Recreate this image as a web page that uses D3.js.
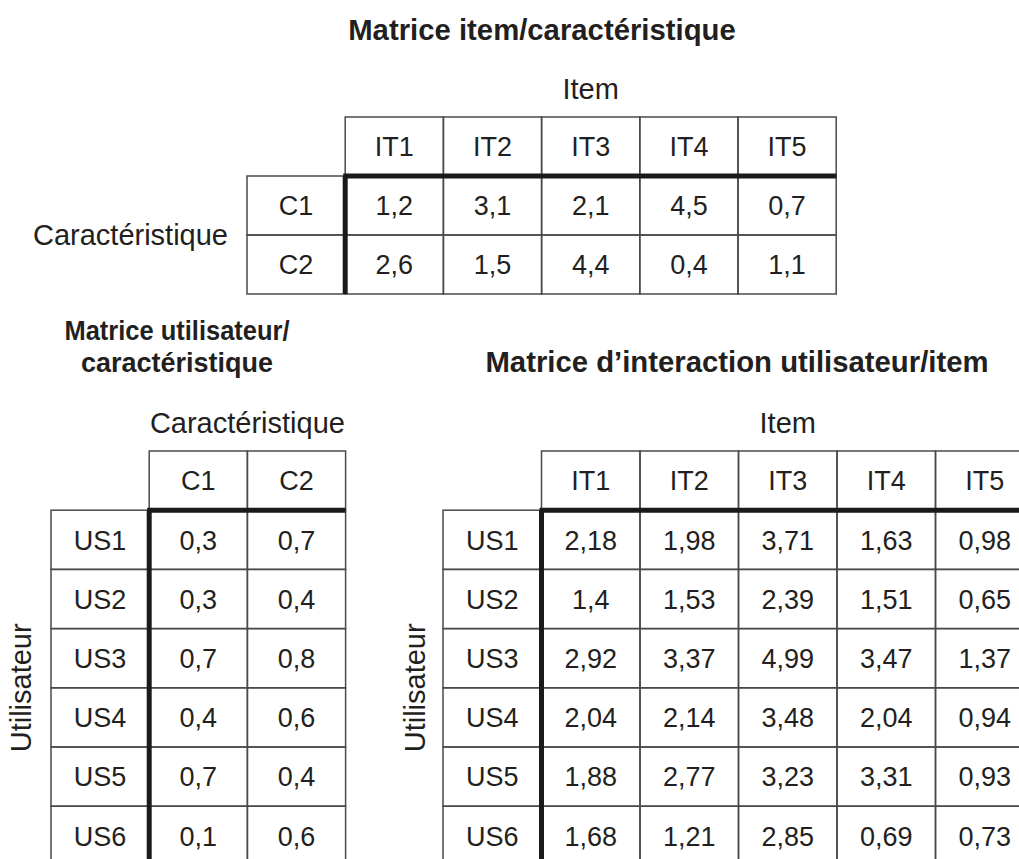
<!DOCTYPE html>
<html>
<head>
<meta charset="utf-8">
<script src="https://cdn.jsdelivr.net/npm/d3@7"></script>
<style>
  html, body { margin: 0; padding: 0; background: #fff; }
  svg { display: block; }
  text { font-family: "Liberation Sans", Arial, sans-serif; fill: #231f20; }
</style>
</head>
<body>
<svg id="chart" width="1019" height="859"></svg>
<script>
// ---- Data ----
const items = ["IT1", "IT2", "IT3", "IT4", "IT5"];
const characteristics = ["C1", "C2"];
const users = ["US1", "US2", "US3", "US4", "US5", "US6"];

// item/characteristic matrix (rows: C1, C2)
const itemCharValues = [
  [1.2, 3.1, 2.1, 4.5, 0.7],
  [2.6, 1.5, 4.4, 0.4, 1.1]
];
// user/characteristic matrix (rows: US1..US6; cols: C1, C2)
const userCharValues = [
  [0.3, 0.7],
  [0.3, 0.4],
  [0.7, 0.8],
  [0.4, 0.6],
  [0.7, 0.4],
  [0.1, 0.6]
];
// user/item interaction matrix (rows: US1..US6; cols: IT1..IT5)
const userItemValues = [
  [2.18, 1.98, 3.71, 1.63, 0.98],
  [1.4, 1.53, 2.39, 1.51, 0.65],
  [2.92, 3.37, 4.99, 3.47, 1.37],
  [2.04, 2.14, 3.48, 2.04, 0.94],
  [1.88, 2.77, 3.23, 3.31, 0.93],
  [1.68, 1.21, 2.85, 0.69, 0.73]
];

const titles = {
  top: "Matrice item/caractéristique",
  left: ["Matrice utilisateur/", "caractéristique"],
  right: "Matrice d\u2019interaction utilisateur/item"
};

// ---- Drawing ----
const svg = d3.select("#chart");
const fmt = v => String(v).replace(".", ",");
const FS = 27;      // cell text
const AFS = 29;     // axis titles
const TFS = 29.3;   // bold titles
const LTFS = 28;    // left bold title (slightly condensed)
const THIN = "#4a4a4a";

function drawMatrix(opts) {
  const { left, top, colW, rowH, cols, rows, values, colTitle, rowTitle, rowTitleX, rowTitleRotate } = opts;
  const colKeys = ["__label", ...cols];
  const rowKeys = ["__header", ...rows];
  const x = d3.scaleBand().domain(colKeys).range([left, left + colW * colKeys.length]);
  const y = d3.scaleBand().domain(rowKeys).range([top, top + rowH * rowKeys.length]);
  const g = svg.append("g");

  // header cells
  g.selectAll("rect.hdr").data(cols).join("rect")
    .attr("x", d => x(d)).attr("y", y("__header"))
    .attr("width", x.bandwidth()).attr("height", y.bandwidth())
    .attr("fill", "none").attr("stroke", THIN).attr("stroke-width", 1.5);
  // row label cells
  g.selectAll("rect.rl").data(rows).join("rect")
    .attr("x", x("__label")).attr("y", d => y(d))
    .attr("width", x.bandwidth()).attr("height", y.bandwidth())
    .attr("fill", "none").attr("stroke", THIN).attr("stroke-width", 1.5);
  // value cells
  const cells = [];
  rows.forEach((r, i) => cols.forEach((c, j) => cells.push({ r, c, v: values[i][j] })));
  g.selectAll("rect.cell").data(cells).join("rect")
    .attr("x", d => x(d.c)).attr("y", d => y(d.r))
    .attr("width", x.bandwidth()).attr("height", y.bandwidth())
    .attr("fill", "none").attr("stroke", THIN).attr("stroke-width", 1.5);

  // texts
  g.selectAll("text.hdr").data(cols).join("text")
    .attr("x", d => x(d) + x.bandwidth() / 2).attr("y", y("__header") + y.bandwidth() / 2)
    .attr("text-anchor", "middle").attr("dy", "0.36em").attr("font-size", FS).text(d => d);
  g.selectAll("text.rl").data(rows).join("text")
    .attr("x", x("__label") + x.bandwidth() / 2).attr("y", d => y(d) + y.bandwidth() / 2)
    .attr("text-anchor", "middle").attr("dy", "0.36em").attr("font-size", FS).text(d => d);
  g.selectAll("text.cell").data(cells).join("text")
    .attr("x", d => x(d.c) + x.bandwidth() / 2).attr("y", d => y(d.r) + y.bandwidth() / 2)
    .attr("text-anchor", "middle").attr("dy", "0.36em").attr("font-size", FS).text(d => fmt(d.v));

  // thick separators
  const x0 = x(cols[0]), x1 = x(cols[cols.length - 1]) + x.bandwidth();
  const y0 = y(rows[0]), y1 = y(rows[rows.length - 1]) + y.bandwidth();
  g.append("line").attr("x1", x0 - 2).attr("x2", x1).attr("y1", y0).attr("y2", y0)
    .attr("stroke", "#1a1a1a").attr("stroke-width", 5);
  g.append("line").attr("x1", x0).attr("x2", x0).attr("y1", y0).attr("y2", y1)
    .attr("stroke", "#1a1a1a").attr("stroke-width", 5);

  // column title
  g.append("text").attr("x", (x0 + x1) / 2).attr("y", top - 18)
    .attr("text-anchor", "middle").attr("font-size", AFS).text(colTitle);
  // row title
  const cy = (y0 + y1) / 2;
  if (rowTitleRotate) {
    g.append("text").attr("transform", `translate(${rowTitleX},${cy}) rotate(-90)`)
      .attr("text-anchor", "middle").attr("dy", "0.36em").attr("font-size", AFS).text(rowTitle);
  } else {
    g.append("text").attr("x", rowTitleX).attr("y", cy)
      .attr("text-anchor", "end").attr("dy", "0.36em").attr("font-size", AFS).text(rowTitle);
  }
  return { x, y };
}

drawMatrix({ left: 247, top: 117, colW: 98.2, rowH: 59, cols: items, rows: characteristics,
  values: itemCharValues, colTitle: "Item", rowTitle: "Caractéristique", rowTitleX: 228 });
drawMatrix({ left: 51, top: 451, colW: 98.2, rowH: 59.2, cols: characteristics, rows: users,
  values: userCharValues, colTitle: "Caractéristique", rowTitle: "Utilisateur", rowTitleX: 21, rowTitleRotate: true });
drawMatrix({ left: 443, top: 451, colW: 98.5, rowH: 59.2, cols: items, rows: users,
  values: userItemValues, colTitle: "Item", rowTitle: "Utilisateur", rowTitleX: 415, rowTitleRotate: true });

// titles
svg.append("text").attr("x", 542).attr("y", 40).attr("text-anchor", "middle")
  .attr("font-size", TFS).attr("font-weight", "bold").text(titles.top);
const leftWidths = [225, 192];
svg.selectAll("text.lt").data(titles.left).join("text")
  .attr("x", 177).attr("y", (d, i) => 340 + i * 32).attr("text-anchor", "middle")
  .attr("font-size", LTFS).attr("font-weight", "bold")
  .attr("textLength", (d, i) => leftWidths[i]).attr("lengthAdjust", "spacingAndGlyphs")
  .text(d => d);
svg.append("text").attr("x", 737).attr("y", 372).attr("text-anchor", "middle")
  .attr("font-size", TFS).attr("font-weight", "bold").text(titles.right);
</script>
</body>
</html>
